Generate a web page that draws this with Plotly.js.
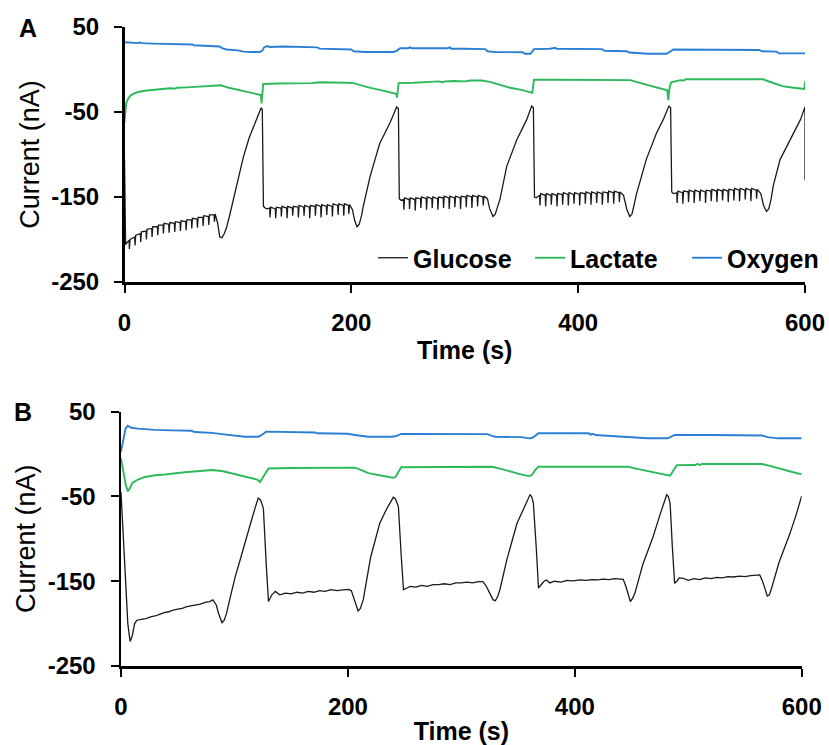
<!DOCTYPE html>
<html>
<head>
<meta charset="utf-8">
<script src="https://cdn.plot.ly/plotly-3.0.1.min.js"></script>
<style>html,body{margin:0;padding:0;background:#fff}</style>
</head>
<body>
<div id="chart" style="width:829px;height:745px"></div>
<script>
// Time (s) / current (nA) pairs for each sensor trace.
// Panel A
const glucoseA = [
  [0,-105],[1,-206],[2.5,-203],
  [4,-201],[4.3,-211],[4.9,-200],[9,-197],[9.3,-207],[9.9,-195],
  [14,-193],[14.3,-203],[14.9,-191],[19,-190],[19.3,-200],[19.9,-188],
  [24,-187],[24.3,-197],[24.9,-185],[29,-185],[29.3,-195],[29.9,-183],
  [34,-183],[34.3,-193],[34.9,-181],[39,-182],[39.3,-192],[39.9,-180],
  [44,-181],[44.3,-191],[44.9,-179],[49,-180],[49.3,-190],[49.9,-178],
  [54,-179],[54.3,-189],[54.9,-177],[59,-177],[59.3,-187],[59.9,-175],
  [64,-176],[64.3,-186],[64.9,-174],[69,-174],[69.3,-184],[69.9,-172],
  [74,-173],[74.3,-183],[74.9,-171],[79,-171],[79.3,-179],[79.9,-170],
  [82,-180],[84,-197],[86,-198],[88,-193],[90,-186],[93,-170],[96,-153],
  [100,-128],[105,-102],[110,-80],[114,-66],[118,-53],[120.5,-45],[121.5,-47],
  [122.5,-161],[125,-164],
  [128,-163],[128.3,-174],[128.9,-162],[133,-164],[133.3,-175],[133.9,-162],
  [138,-163],[138.3,-173],[138.9,-161],[143,-163],[143.3,-175],[143.9,-161],
  [148,-163],[148.3,-172],[148.9,-161],[153,-162],[153.3,-174],[153.9,-160],
  [158,-162],[158.3,-172],[158.9,-160],[163,-162],[163.3,-175],[163.9,-160],
  [168,-161],[168.3,-172],[168.9,-159],[173,-161],[173.3,-174],[173.9,-159],
  [178,-161],[178.3,-171],[178.9,-159],[183,-161],[183.3,-173],[183.9,-158],
  [188,-160],[188.3,-171],[188.9,-158],[193,-160],[193.3,-172],[193.9,-158],
  [197.5,-160],[197.8,-170],[198.4,-159],
  [201,-165],[203,-178],[205,-185],[207,-182],[209,-172],[210.5,-161],
  [216.5,-126],[225,-87],[234,-63],[238,-51],[240,-44],[241.5,-46],
  [242.3,-152],[244,-154],
  [246,-153],[246.3,-165],[246.9,-151],[251,-153],[251.3,-164],[251.9,-151],
  [256,-153],[256.3,-166],[256.9,-151],[261,-152],[261.3,-163],[261.9,-150],
  [266,-152],[266.3,-165],[266.9,-150],[271,-152],[271.3,-163],[271.9,-150],
  [276,-152],[276.3,-165],[276.9,-150],[281,-151],[281.3,-163],[281.9,-149],
  [286,-151],[286.3,-164],[286.9,-149],[291,-151],[291.3,-162],[291.9,-149],
  [296,-151],[296.3,-164],[296.9,-149],[301,-150],[301.3,-162],[301.9,-148],
  [306,-150],[306.3,-163],[306.9,-148],[311,-150],[311.3,-161],[311.9,-148],
  [316,-150],[316.3,-160],[316.9,-149],
  [320,-152],[322,-164],[325,-173],[327,-170],[329,-161],[331,-153],
  [337,-114],[345.8,-83],[354.6,-59],[359,-43],[360.5,-45],
  [361.5,-150],[363,-151],
  [366,-148],[366.3,-160],[366.9,-146],[371,-148],[371.3,-161],[371.9,-146],
  [376,-148],[376.3,-159],[376.9,-146],[381,-148],[381.3,-161],[381.9,-146],
  [386,-147],[386.3,-159],[386.9,-145],[391,-147],[391.3,-160],[391.9,-145],
  [396,-147],[396.3,-158],[396.9,-145],[401,-147],[401.3,-160],[401.9,-145],
  [406,-146],[406.3,-158],[406.9,-144],[411,-146],[411.3,-159],[411.9,-144],
  [416,-146],[416.3,-157],[416.9,-144],[421,-146],[421.3,-159],[421.9,-144],
  [426,-145],[426.3,-157],[426.9,-143],[431,-145],[431.3,-158],[431.9,-143],
  [436,-145],[436.3,-156],[436.9,-144],
  [440,-148],[443,-165],[445.5,-173],[447.5,-170],[449.5,-158],[451.5,-146],
  [460,-106],[469,-75],[475,-59],[480,-43],[481.5,-45],
  [482.5,-144],[484,-146],
  [487,-145],[487.3,-157],[487.9,-143],[492,-145],[492.3,-158],[492.9,-143],
  [497,-144],[497.3,-156],[497.9,-142],[502,-144],[502.3,-157],[502.9,-142],
  [507,-144],[507.3,-155],[507.9,-142],[512,-144],[512.3,-157],[512.9,-142],
  [517,-143],[517.3,-155],[517.9,-141],[522,-143],[522.3,-156],[522.9,-141],
  [527,-143],[527.3,-154],[527.9,-141],[532,-143],[532.3,-156],[532.9,-141],
  [537,-142],[537.3,-154],[537.9,-140],[542,-142],[542.3,-155],[542.9,-140],
  [547,-142],[547.3,-153],[547.9,-140],[552,-142],[552.3,-155],[552.9,-140],
  [557,-142],[557.3,-152],[557.9,-141],
  [561,-146],[563.5,-160],[566,-167],[568,-164],[570,-153],[572,-137],
  [578,-106],[587,-83],[596,-59],[600,-44],[600,-130]
];
const lactateA = [
  [0,-62],[0.6,-48],[1.5,-40],[3,-35],[5,-31],[8,-28.5],[12,-26.5],[18,-25],
  [25,-24],[32,-23],[40,-22],[45,-22.5],[46,-21.5],[55,-21],[65,-20],[75,-19],
  [82,-18],[85,-18.5],[92,-21.5],[100,-24],[108,-26.5],[115,-28.5],[120.3,-30],
  [120.8,-40],[121.6,-26],[122.3,-17],[135,-16.5],[150,-16.5],[165,-16],
  [172,-15],[185,-15],[195,-15.5],[202,-16],[208,-18.5],[215,-21],[225,-24],
  [233,-26],[239.5,-28.5],[240.3,-33],[241,-19],[241.7,-16],[255,-15.5],
  [270,-15],[277,-14],[280,-15],[283,-14],[290,-13.5],[300,-14],[305,-13],
  [315,-13],[322,-14.5],[330,-18],[340,-21.5],[350,-24],[357,-26],[359.5,-27.5],
  [360.3,-20],[361,-12],[380,-12],[400,-12],[425,-12],[446,-12.5],[455,-16],
  [465,-20],[473,-22.5],[478.5,-24.5],[479.5,-36],[480.5,-22],[482,-15],
  [486,-14],[490,-12.5],[493,-13],[495,-11.5],[530,-11.5],[563,-11.5],
  [570,-15],[580,-19.5],[590,-21.5],[599.5,-23],[600,-14]
];
const oxygenA = [
  [0,32],[5,31.5],[12,31],[14,32],[15,31],[25,30.5],[35,30],[45,29.5],[55,29],
  [60,29.5],[61,28.5],[70,28],[80,27.5],[84,27],[86,25],[90,23.5],[100,22.5],
  [105,21],[112,20.6],[119,20.6],[121.5,22],[123,26],[126,27.5],[128,26.5],
  [140,27],[150,26.5],[160,26.5],[170,26],[172,24.5],[190,24],[200,23.5],
  [202,21.5],[212,20.6],[237,20.6],[240,22],[243,25],[250,25],[252,26],
  [253,25],[270,25],[285,25],[287,26],[288,24.5],[300,24.5],[318,24],
  [320,21.5],[328,20.5],[351,20.3],[353,18.5],[358,18.5],[361,24],[375,24.5],
  [380,25.5],[381,24.5],[400,24.5],[410,24.5],[421,24],[423,22],[443,21.5],
  [445,20],[462,18.5],[478,18.5],[481,21],[484,23.5],[520,23.3],[560,23],
  [562,21.5],[575,21],[577,19],[600,19]
];

// Panel B
const glucoseB = [
  [0,-45],[3,-130],[6,-200],[8,-221],[10,-214],[12,-200],[14,-196],[18,-195],
  [22,-194],[26,-192],[30,-191],[34,-189],[38,-187],[42,-186],[46,-184],
  [50,-183],[54,-182],[58,-180],[62,-179],[66,-178],[70,-177],[74,-175],
  [78,-174],[81,-172],[84,-178],[86,-188],[89,-199],[91,-196],[93,-188],
  [97,-165],[101,-143],[105,-125],[110,-100],[115,-78],[119,-60],[121,-52],
  [123,-54],[125.5,-64],[128,-130],[130,-174],[133,-166],[136,-162],[140,-166],
  [145,-164],[150,-165],[155,-163],[160,-164],[165,-162],[170,-163],[175,-161],
  [180,-162],[185,-160],[190,-161],[195,-160],[200,-159.5],[203,-161],
  [206,-172],[209,-185],[211,-182],[213.5,-172],[220,-122],[228,-82],
  [234,-65],[240,-51],[242,-53],[244.5,-62],[247,-120],[249,-160],[252,-158],
  [255,-156],[260,-157],[265,-155],[270,-156],[275,-154],[280,-154],
  [285,-153],[290,-154],[295,-152],[300,-152],[305,-151],[310,-152],
  [315,-150.5],[319,-150.5],[322,-156],[325,-164],[328,-172],[330,-173],
  [332,-168],[334,-160],[340,-125],[349,-82],[355,-64],[360.5,-48],[362,-50],
  [363.5,-58],[366,-110],[368,-158],[371,-153],[373,-150],[375,-148.5],
  [378,-152],[382,-150],[388,-151],[393,-149],[398,-149.5],[405,-148.5],
  [410,-149],[415,-148],[420,-148.5],[425,-147.5],[430,-148],[435,-147],
  [442.7,-147.7],[445,-156],[447,-164],[449,-174],[451,-170],[453,-164],
  [460,-130],[469,-97.5],[475,-72],[481,-48],[482.5,-50],[484,-58],[486,-110],
  [488,-152.5],[490,-150],[492,-146],[495.6,-146.5],[500,-149],[505,-147],
  [510,-148],[515,-146],[520,-147],[525,-145.5],[530,-146],[535,-144.5],
  [540,-145],[545,-144],[550,-144.5],[555,-143.5],[563,-142.6],[565.5,-150],
  [567.6,-158],[569.7,-167.4],[571.5,-166],[573.5,-158],[580,-128],
  [589.7,-93.5],[595,-72],[600,-49.5]
];
const lactateB = [
  [0,-5],[2,-20],[4,-35],[6,-44],[8,-40],[10,-34],[15,-30],[21,-27],[30,-25],
  [39,-24],[48,-22.5],[56,-21.5],[70,-20],[80,-18.8],[89,-20],[100,-23.5],
  [112,-26.7],[120,-30],[122.5,-33],[126,-25],[130,-17],[150,-16.5],
  [186,-16],[206,-16],[212,-19],[218,-22.5],[235,-26.7],[240,-28],[242,-27],
  [245,-19],[247,-15.6],[280,-15.2],[303,-14.9],[327,-14.9],[335,-17.5],
  [341,-20],[350,-23],[359,-26],[362,-25],[365,-19],[368,-15],[400,-14.9],
  [447,-14.9],[455,-17.5],[464.5,-20],[475,-23],[484,-25.5],[487,-19],
  [490,-13],[506,-12.9],[508,-11.5],[510,-12.9],[512,-11.7],[540,-11.7],
  [565,-11.7],[572,-14],[579,-16.8],[590,-20.5],[600,-24]
];
const oxygenB = [
  [0,3],[2,15],[4,30],[6,33.5],[9,31],[15,30],[30,28.5],[45,28],[62,27.5],
  [65,26],[80,25],[89,23.5],[100,22],[109,20.5],[121,20.5],[124,22.5],
  [128,26.5],[150,26],[171,25.5],[173,24.5],[200,24],[206,22.5],[218,20.5],
  [238,20.5],[242,21],[247,23.7],[280,23.7],[323,23.5],[327,21.5],[330,20.5],
  [353,20],[360,18.6],[363,19.5],[368,24.5],[400,24.5],[412,24.5],[414,23],
  [416,24],[418,22.5],[447,20.5],[460,19.5],[464,18.6],[482,18.6],[488,22.5],
  [520,22.5],[565,22],[570,20],[579,18.6],[600,18.6]
];

const seriesNames = ['Glucose', 'Lactate', 'Oxygen'];
const seriesColors = ['#1a1a1a', '#2cb95a', '#2a7fd4'];
const xTicks = [0, 200, 400, 600];
const yTicks = [-250, -150, -50, 50];

const W = 829, H = 745;
const FONT = 'Liberation Sans, Arial, sans-serif';

function trace(points, i, xa, ya, showLegend) {
  return {
    type: 'scatter', mode: 'lines',
    x: points.map(p => p[0]), y: points.map(p => p[1]),
    name: seriesNames[i], xaxis: xa, yaxis: ya,
    showlegend: showLegend,
    line: {color: seriesColors[i], width: i === 0 ? 1.3 : 1.9},
    hoverinfo: 'x+y'
  };
}

const data = [
  trace(glucoseA, 0, 'x', 'y', true),
  trace(lactateA, 1, 'x', 'y', true),
  trace(oxygenA, 2, 'x', 'y', true),
  trace(glucoseB, 0, 'x2', 'y2', false),
  trace(lactateB, 1, 'x2', 'y2', false),
  trace(oxygenB, 2, 'x2', 'y2', false)
];

const tickFont = {family: FONT, size: 24, color: '#000', weight: 'bold'};

function xAxis(left, right, anchor) {
  return {
    domain: [left / W, right / W], anchor: anchor, range: [0, 600],
    tickmode: 'array', tickvals: xTicks, ticktext: xTicks.map(String),
    ticks: 'outside', ticklen: 8, tickwidth: 2, tickcolor: '#000',
    showline: true, linecolor: '#000', linewidth: 2.5,
    showgrid: false, zeroline: false, tickfont: tickFont,
    ticklabelstandoff: 10,
    title: {text: 'Time (s)', font: {family: FONT, size: 25, color: '#000', weight: 'bold'}, standoff: 6}
  };
}
function yAxis(top, bottom, anchor) {
  return {
    domain: [1 - bottom / H, 1 - top / H], anchor: anchor, range: [-250, 50],
    tickmode: 'array', tickvals: yTicks, ticktext: yTicks.map(String),
    ticks: 'outside', ticklen: 8, tickwidth: 2, tickcolor: '#000',
    showline: true, linecolor: '#000', linewidth: 2.5,
    showgrid: false, zeroline: false, tickfont: tickFont,
    ticklabelstandoff: 10,
    title: {text: 'Current (nA)', font: {family: FONT, size: 27, color: '#000'}, standoff: 4}
  };
}

const layout = {
  width: W, height: H,
  margin: {l: 0, r: 0, t: 0, b: 0, autoexpand: false},
  paper_bgcolor: '#fff', plot_bgcolor: '#fff',
  font: {family: FONT, color: '#000'},
  xaxis: xAxis(124.5, 805, 'y'),
  yaxis: yAxis(27, 282, 'x'),
  xaxis2: xAxis(121, 801.7, 'y2'),
  yaxis2: yAxis(411.7, 666, 'x2'),
  showlegend: true,
  legend: {
    orientation: 'h', x: 373 / W, xanchor: 'left', y: 1 - 258 / H, yanchor: 'middle',
    font: {family: FONT, size: 25, color: '#000', weight: 'bold'},
    bgcolor: 'rgba(0,0,0,0)', borderwidth: 0, entrywidth: 112, traceorder: 'normal'
  },
  annotations: [
    {text: 'A', xref: 'paper', yref: 'paper', x: 28 / W, y: 1 - 28 / H, showarrow: false,
     xanchor: 'center', yanchor: 'middle', font: {family: FONT, size: 25, color: '#000', weight: 'bold'}},
    {text: 'B', xref: 'paper', yref: 'paper', x: 23 / W, y: 1 - 412 / H, showarrow: false,
     xanchor: 'center', yanchor: 'middle', font: {family: FONT, size: 25, color: '#000', weight: 'bold'}}
  ]
};

Plotly.newPlot('chart', data, layout, {staticPlot: true, displayModeBar: false});
</script>
</body>
</html>
